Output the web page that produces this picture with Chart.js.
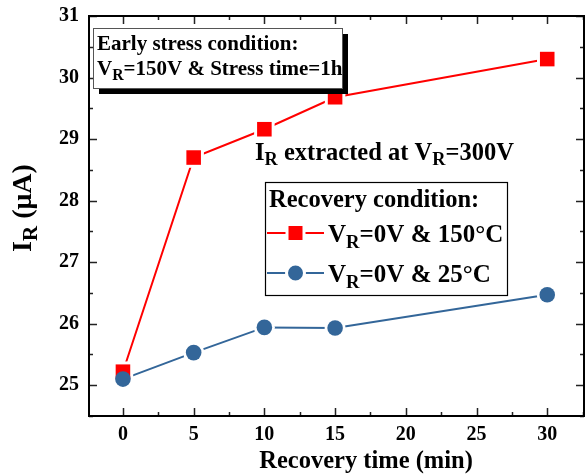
<!DOCTYPE html>
<html>
<head>
<meta charset="utf-8">
<script src="https://cdn.jsdelivr.net/npm/chart.js@4"></script>
<style>
  html, body { margin: 0; padding: 0; background: #fff; overflow: hidden; }
  canvas { display: block; }
</style>
</head>
<body>
<canvas id="grafico" width="585" height="475"></canvas>
<script>
// tempo de recuperação (min) e corrente reversa (µA)
const tempo = [0, 5, 10, 15, 30];
const ir150C = [25.22, 28.70, 29.16, 29.68, 30.30];
const ir25C = [25.10, 25.53, 25.94, 25.93, 26.47];

// ticks dos eixos
const ticksX = [0, 5, 10, 15, 20, 25, 30];
const ticksY = [25, 26, 27, 28, 29, 30, 31];
const minorX = [2.5, 7.5, 12.5, 17.5, 22.5, 27.5, 32.5];
const minorY = [24.5, 25.5, 26.5, 27.5, 28.5, 29.5, 30.5];

const FONTE = "'Liberation Serif', 'Times New Roman', serif";
const VERMELHO = '#ff0000';
const AZUL = '#336699';

const pontos = serie => tempo.map((t, i) => ({ x: t, y: serie[i] }));

// escreve texto com partes em subscrito: [['V'], ['R', true], ['=0V']]
function textoRico(ctx, partes, x, y, tam) {
  let cx = x;
  partes.forEach(([t, sub]) => {
    const s = sub ? tam * 0.75 : tam;
    ctx.font = `bold ${s}px ${FONTE}`;
    ctx.fillText(t, cx, sub ? y + tam * 0.22 : y);
    cx += ctx.measureText(t).width;
  });
  return cx - x;
}

function larguraRica(ctx, partes, tam) {
  let w = 0;
  partes.forEach(([t, sub]) => {
    ctx.font = `bold ${sub ? tam * 0.75 : tam}px ${FONTE}`;
    w += ctx.measureText(t).width;
  });
  return w;
}

// moldura, ticks para dentro, rótulos e anotações
const molduraPlugin = {
  id: 'moldura',
  beforeDatasetsDraw(chart) {
    const { ctx, chartArea: a, scales: { x, y } } = chart;
    ctx.save();
    ctx.strokeStyle = '#222';
    ctx.lineWidth = 1.5;
    const marca = (vals, len) => {
      vals.forEach(v => {
        if (v < x.min || v > x.max) return;
        const px = Math.round(x.getPixelForValue(v)) + 0.5;
        ctx.beginPath();
        ctx.moveTo(px, a.bottom); ctx.lineTo(px, a.bottom - len);
        ctx.moveTo(px, a.top); ctx.lineTo(px, a.top + len);
        ctx.stroke();
      });
    };
    const marcaY = (vals, len) => {
      vals.forEach(v => {
        if (v < y.min || v > y.max) return;
        const py = Math.round(y.getPixelForValue(v)) + 0.5;
        ctx.beginPath();
        ctx.moveTo(a.left, py); ctx.lineTo(a.left + len, py);
        ctx.moveTo(a.right, py); ctx.lineTo(a.right - len, py);
        ctx.stroke();
      });
    };
    marca(ticksX, 8); marca(minorX, 4);
    marcaY(ticksY, 8); marcaY(minorY, 4);
    ctx.strokeStyle = '#000';
    ctx.lineWidth = 2;
    ctx.strokeRect(a.left, a.top, a.right - a.left, a.bottom - a.top);

    // rótulos dos ticks
    ctx.fillStyle = '#000';
    ctx.font = `bold 20px ${FONTE}`;
    ctx.textAlign = 'center';
    ctx.textBaseline = 'middle';
    ticksX.forEach(v => ctx.fillText(String(v), x.getPixelForValue(v), a.bottom + 19));
    ctx.textAlign = 'right';
    ticksY.forEach(v => ctx.fillText(String(v), a.left - 10, y.getPixelForValue(v)));
    ctx.restore();
  },
  afterDraw(chart) {
    const { ctx } = chart;
    ctx.save();
    ctx.fillStyle = '#000';

    // títulos dos eixos
    ctx.font = `bold 24.5px ${FONTE}`;
    ctx.textAlign = 'center';
    ctx.textBaseline = 'middle';
    ctx.fillText('Recovery time (min)', 366, 462);
    ctx.textAlign = 'left';
    ctx.textBaseline = 'alphabetic';

    const tituloY = [['I'], ['R', true], [' (μA)']];
    ctx.save();
    ctx.translate(31, 208);
    ctx.rotate(-Math.PI / 2);
    const wy = larguraRica(ctx, tituloY, 28);
    textoRico(ctx, tituloY, -wy / 2, 0, 28);
    ctx.restore();

    // caixa da condição de estresse
    ctx.fillStyle = '#000';
    ctx.fillRect(99, 34, 249, 60);
    ctx.fillStyle = '#fff';
    ctx.fillRect(93, 28, 249, 60);
    ctx.strokeStyle = '#555';
    ctx.lineWidth = 1;
    ctx.strokeRect(93.5, 28.5, 249, 60);
    ctx.fillStyle = '#000';
    ctx.font = `bold 21px ${FONTE}`;
    ctx.fillText('Early stress condition:', 97, 50);
    textoRico(ctx, [['V'], ['R', true], ['=150V & Stress time=1h']], 97, 75, 21);

    // texto de extração
    textoRico(ctx, [['I'], ['R', true], [' extracted at V'], ['R', true], ['=300V']], 255, 160, 24.5);

    // legenda
    ctx.fillStyle = '#fff';
    ctx.fillRect(265, 182, 242, 113);
    ctx.strokeStyle = '#000';
    ctx.lineWidth = 1.2;
    ctx.strokeRect(265.5, 182.5, 242, 113);
    ctx.fillStyle = '#000';
    ctx.font = `bold 24.5px ${FONTE}`;
    ctx.fillText('Recovery condition:', 269, 207);

    const itens = [
      { cor: VERMELHO, forma: 'rect', y: 233, partes: [['V'], ['R', true], ['=0V & 150°C']] },
      { cor: AZUL, forma: 'circle', y: 273, partes: [['V'], ['R', true], ['=0V & 25°C']] }
    ];
    itens.forEach(it => {
      ctx.strokeStyle = it.cor;
      ctx.lineWidth = 2;
      ctx.beginPath();
      ctx.moveTo(267, it.y); ctx.lineTo(324, it.y);
      ctx.stroke();
      ctx.fillStyle = it.cor;
      ctx.strokeStyle = '#fff';
      ctx.lineWidth = 3;
      ctx.beginPath();
      if (it.forma === 'rect') ctx.rect(287, it.y - 8.5, 17, 17);
      else ctx.arc(295.5, it.y, 9, 0, Math.PI * 2);
      ctx.fill(); ctx.stroke();
      ctx.fillStyle = '#000';
      textoRico(ctx, it.partes, 328, it.y + 9, 25);
    });
    ctx.restore();
  }
};

// linhas por baixo, depois "borracha" branca em volta dos marcadores, depois os marcadores
new Chart(document.getElementById('grafico').getContext('2d'), {
  type: 'line',
  data: {
    datasets: [
      { data: pontos(ir150C), borderColor: VERMELHO, borderWidth: 2, pointRadius: 0, order: 6 },
      { data: pontos(ir25C), borderColor: AZUL, borderWidth: 2, pointRadius: 0, order: 5 },
      { data: pontos(ir150C), showLine: false, pointStyle: 'rect', pointRadius: 14.5,
        pointBackgroundColor: '#fff', pointBorderWidth: 0, order: 4 },
      { data: pontos(ir25C), showLine: false, pointStyle: 'circle', pointRadius: 10.5,
        pointBackgroundColor: '#fff', pointBorderWidth: 0, order: 3 },
      { label: 'VR=0V & 150°C', data: pontos(ir150C), showLine: false, pointStyle: 'rect',
        pointRadius: 10.3, pointBackgroundColor: VERMELHO, pointBorderWidth: 0, order: 2 },
      { label: 'VR=0V & 25°C', data: pontos(ir25C), showLine: false, pointStyle: 'circle',
        pointRadius: 7.8, pointBackgroundColor: AZUL, pointBorderWidth: 0, order: 1 }
    ]
  },
  options: {
    responsive: false,
    animation: false,
    events: [],
    layout: { autoPadding: false, padding: { top: 16, right: 1, left: 89, bottom: 59 } },
    plugins: {
      legend: { display: false },
      tooltip: { enabled: false }
    },
    scales: {
      x: { type: 'linear', min: -2.4, max: 32.6, display: false },
      y: { min: 24.5, max: 31, display: false }
    }
  },
  plugins: [molduraPlugin]
});
</script>
</body>
</html>
